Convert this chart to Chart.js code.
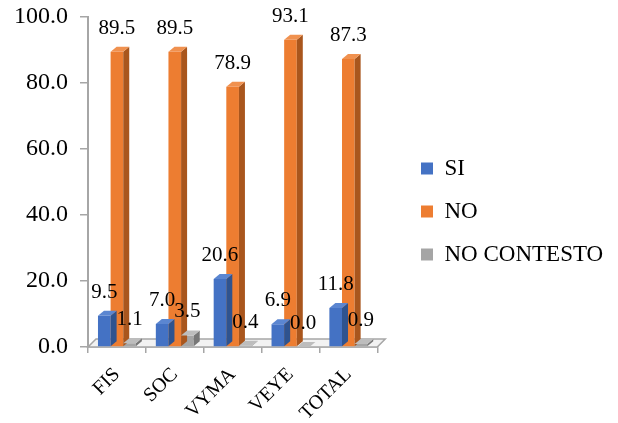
<!DOCTYPE html>
<html lang="es">
<head>
  <meta charset="UTF-8">
  <title>SI / NO / NO CONTESTO</title>
  <script src="https://cdn.jsdelivr.net/npm/chart.js@4.4.0/dist/chart.umd.min.js"></script>
  <style>
    body { margin: 0; background: #fff; }
    #wrap { width: 618px; height: 423px; }
  </style>
</head>
<body>
  <div id="wrap"><canvas id="chart" width="618" height="423"></canvas></div>

  <script>
    // data
    const categories = ['FIS', 'SOC', 'VYMA', 'VEYE', 'TOTAL'];
    const siValues = [9.5, 7.0, 20.6, 6.9, 11.8];
    const noValues = [89.5, 89.5, 78.9, 93.1, 87.3];
    const ncValues = [1.1, 3.5, 0.4, 0.0, 0.9];
    const yTicks = [0, 20, 40, 60, 80, 100];

    const serif = 'Liberation Serif, Times New Roman, serif';
    const DX = 6, DY = 5; // depth of the fake 3d

    // darker tones for the side faces, lighter for tops
    const sideColors = ['#2f538f', '#a9561d', '#777777'];
    const topColors = ['#5b86d1', '#f0914f', '#bdbdbd'];

    // floor under the bars
    const floorPlugin = {
      id: 'floor',
      beforeDatasetsDraw(chart) {
        const { ctx, chartArea: a } = chart;
        ctx.save();
        ctx.beginPath();
        ctx.moveTo(a.left, a.bottom);
        ctx.lineTo(a.right, a.bottom);
        ctx.lineTo(a.right + DX + 2, a.bottom - DY - 3);
        ctx.lineTo(a.left + DX + 2, a.bottom - DY - 3);
        ctx.closePath();
        ctx.fillStyle = '#f2f2f2';
        ctx.fill();
        ctx.strokeStyle = '#a6a6a6';
        ctx.lineWidth = 1.5;
        ctx.stroke();
        ctx.restore();
      }
    };

    // legend box is capped at a quarter of the width, so move it after layout
    const legendPlace = {
      id: 'legendPlace',
      afterLayout(chart) {
        const lg = chart.legend;
        if (!lg) return;
        lg.left = 401;
        lg.right = 618;
      }
    };

    // side + top faces and value labels
    const depthPlugin = {
      id: 'depth',
      afterDatasetsDraw(chart) {
        const ctx = chart.ctx;
        ctx.save();
        chart.data.datasets.forEach((ds, di) => {
          const meta = chart.getDatasetMeta(di);
          meta.data.forEach(bar => {
            const { x, y, base, width } = bar.getProps(['x', 'y', 'base', 'width'], true);
            const l = x - width / 2, r = x + width / 2;
            ctx.fillStyle = sideColors[di];
            ctx.beginPath();
            ctx.moveTo(r, y);
            ctx.lineTo(r + DX, y - DY);
            ctx.lineTo(r + DX, base - DY);
            ctx.lineTo(r, base);
            ctx.closePath();
            ctx.fill();
            ctx.fillStyle = topColors[di];
            ctx.beginPath();
            ctx.moveTo(l, y);
            ctx.lineTo(l + DX, y - DY);
            ctx.lineTo(r + DX, y - DY);
            ctx.lineTo(r, y);
            ctx.closePath();
            ctx.fill();
          });
        });
        ctx.fillStyle = '#000';
        ctx.font = '21px ' + serif;
        ctx.textAlign = 'center';
        ctx.textBaseline = 'alphabetic';
        chart.data.datasets.forEach((ds, di) => {
          chart.getDatasetMeta(di).data.forEach((bar, i) => {
            ctx.fillText(ds.data[i].toFixed(1), bar.x, bar.y - 18);
          });
        });
        ctx.restore();
      }
    };

    new Chart(document.getElementById('chart'), {
      type: 'bar',
      data: {
        labels: categories,
        datasets: [
          { label: 'SI', data: siValues, backgroundColor: '#4472c4' },
          { label: 'NO', data: noValues, backgroundColor: '#ed7d31' },
          { label: 'NO CONTESTO', data: ncValues, backgroundColor: '#a5a5a5' }
        ]
      },
      options: {
        responsive: false,
        animation: false,
        datasets: { bar: { barPercentage: 1, categoryPercentage: 0.655 } },
        layout: { padding: { top: 0, left: 0, right: 115, bottom: 0 } },
        plugins: {
          tooltip: { enabled: false },
          legend: {
            position: 'right',
            labels: {
              font: { family: serif, size: 23 },
              color: '#000',
              boxWidth: 12,
              boxHeight: 12,
              padding: 20
            }
          }
        },
        scales: {
          x: {
            afterFit: s => { s.height = 76; },
            border: { color: '#a6a6a6', width: 1.5 },
            grid: { display: true, drawOnChartArea: false, tickLength: 6, color: '#a6a6a6', lineWidth: 1.5 },
            ticks: {
              minRotation: 45, maxRotation: 45,
              font: { family: serif, size: 20 },
              color: '#000',
              padding: 10
            }
          },
          y: {
            min: 0, max: 100,
            afterFit: s => { s.width = 88; s.paddingTop = 17; s.paddingBottom = 14; },
            afterBuildTicks: s => { s.ticks = yTicks.map(v => ({ value: v })); },
            border: { color: '#a6a6a6', width: 2 },
            grid: { display: true, drawOnChartArea: false, tickLength: 8, color: '#a6a6a6', lineWidth: 1.5 },
            ticks: {
              callback: v => v.toFixed(1),
              font: { family: serif, size: 24 },
              color: '#000',
              padding: 12
            }
          }
        }
      },
      plugins: [floorPlugin, legendPlace, depthPlugin]
    });
  </script>
</body>
</html>
